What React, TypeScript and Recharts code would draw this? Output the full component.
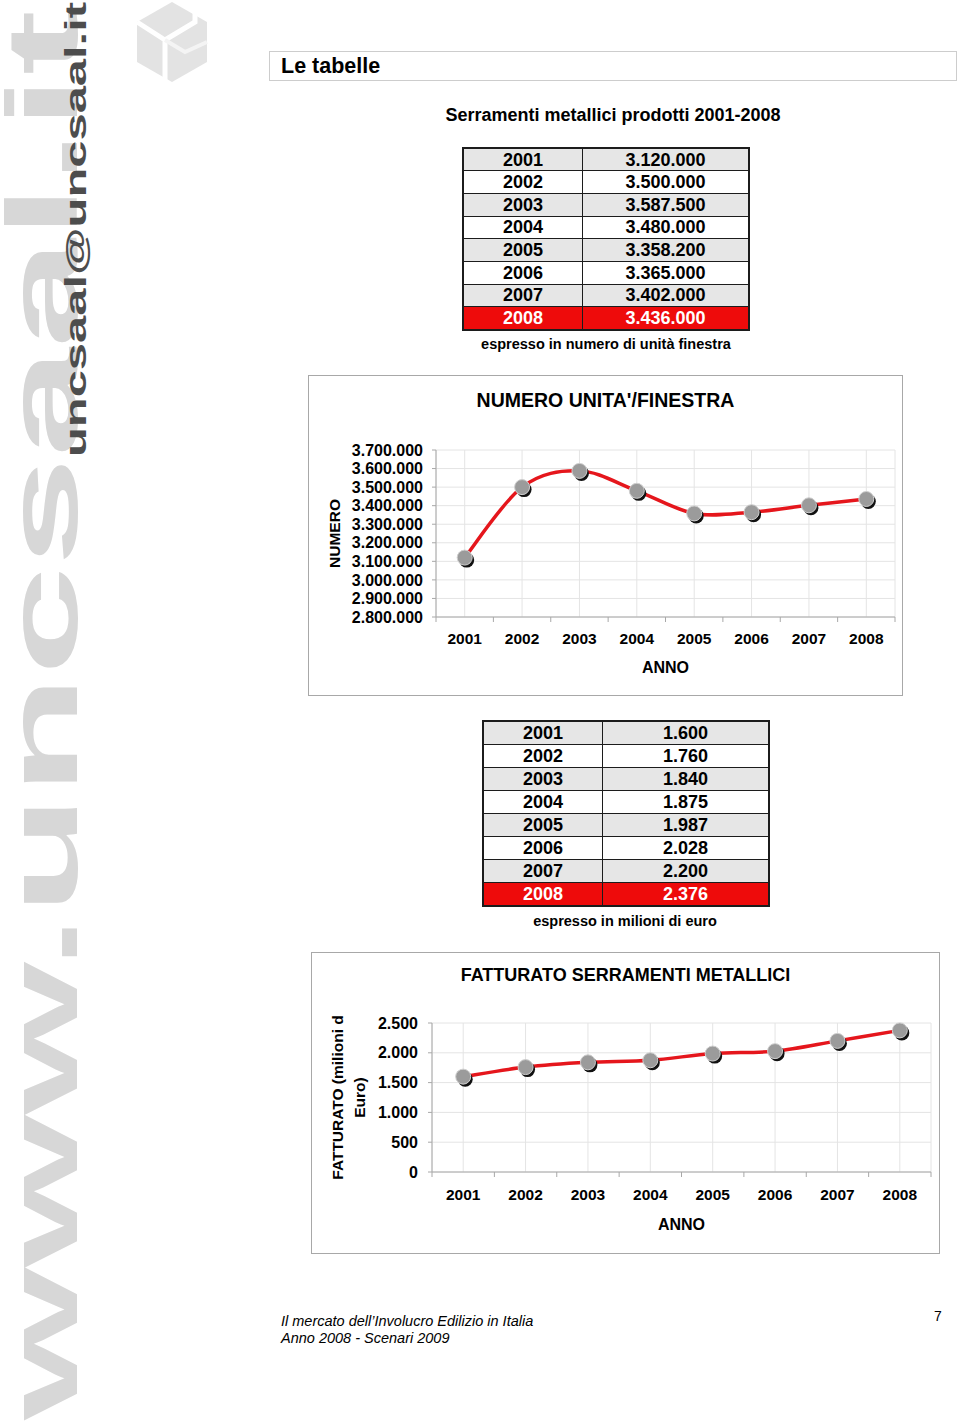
import React from 'react'
import { LineChart, Line, XAxis, YAxis, CartesianGrid } from 'recharts'

const FONT = "'Liberation Sans', Arial, Helvetica, sans-serif"

// data
const years = ['2001', '2002', '2003', '2004', '2005', '2006', '2007', '2008']
const unitValues = [3120000, 3500000, 3587500, 3480000, 3358200, 3365000, 3402000, 3436000]
const revenueValues = [1600, 1760, 1840, 1875, 1987, 2028, 2200, 2376]
const unitTicks = [2800000, 2900000, 3000000, 3100000, 3200000, 3300000, 3400000, 3500000, 3600000, 3700000]
const revenueTicks = [0, 500, 1000, 1500, 2000, 2500]

const unitData = years.map((y, i) => ({ year: y, value: unitValues[i] }))
const revenueData = years.map((y, i) => ({ year: y, value: revenueValues[i] }))

const fmtIt = (v: number) => String(v).replace(/\B(?=(\d{3})+(?!\d))/g, '.')

// Excel-like smoothed line (catmull-rom style bezier)
function excelCurve(context: any) {
  let pts: number[][] = []
  return {
    areaStart() {},
    areaEnd() {},
    lineStart() { pts = [] },
    point(x: number, y: number) { pts.push([+x, +y]) },
    lineEnd() {
      const n = pts.length
      if (!n) return
      context.moveTo(pts[0][0], pts[0][1])
      for (let i = 0; i < n - 1; i++) {
        const p0 = pts[Math.max(i - 1, 0)], p1 = pts[i], p2 = pts[i + 1], p3 = pts[Math.min(i + 2, n - 1)]
        context.bezierCurveTo(
          p1[0] + (p2[0] - p0[0]) / 6, p1[1] + (p2[1] - p0[1]) / 6,
          p2[0] - (p3[0] - p1[0]) / 6, p2[1] - (p3[1] - p1[1]) / 6,
          p2[0], p2[1])
      }
    },
  }
}

const Marker = (props: any) => {
  const { cx, cy, index } = props
  if (cx == null || cy == null) return null
  return (
    <g key={index}>
      <circle cx={cx + 2} cy={cy + 2.5} r={7.5} fill="#111" />
      <circle cx={cx} cy={cy} r={7.5} fill="#9b9b9b" stroke="#cfcfcf" strokeWidth={1} />
    </g>
  )
}

// category label + excel style tick marks between categories
const makeYearTick = (plotW: number, labelDy: number) => (props: any) => {
  const { x, y, payload, index, visibleTicksCount } = props
  const count = visibleTicksCount || years.length
  const half = plotW / count / 2
  return (
    <g>
      <line x1={x - half} x2={x - half} y1={y} y2={y + 5} stroke="#a8a8a8" />
      {index === count - 1 && <line x1={x + half} x2={x + half} y1={y} y2={y + 5} stroke="#a8a8a8" />}
      <text x={x} y={y + labelDy} dy="0.35em" textAnchor="middle" fontSize={15.5} fontWeight="bold" fill="#000" fontFamily={FONT}>
        {payload.value}
      </text>
    </g>
  )
}

const AnnoLabel = (dy: number) => (props: any) => {
  const vb = props.viewBox
  return (
    <text x={vb.x + vb.width / 2} y={vb.y + dy} dy="0.35em" textAnchor="middle" fontSize={16} fontWeight="bold" fill="#000" fontFamily={FONT}>
      ANNO
    </text>
  )
}

const YTitle = (lines: string[], xs: number[]) => (props: any) => {
  const vb = props.viewBox
  const cy = vb.y + vb.height / 2
  return (
    <g>
      {lines.map((l, i) => (
        <text key={i} x={xs[i]} y={cy} dy="0.35em" textAnchor="middle" transform={`rotate(-90 ${xs[i]} ${cy})`}
          fontSize={15.5} fontWeight="bold" fill="#000" fontFamily={FONT}>{l}</text>
      ))}
    </g>
  )
}

function TrendChart({ data, ticks, width, height, margin, yWidth, plotW, labelDy, annoDy, titleLines, titleXs, tickMargin }: any) {
  return (
    <LineChart width={width} height={height} data={data} margin={margin}>
      <CartesianGrid stroke="#e4e4e4" />
      <XAxis dataKey="year" height={height - margin.top - (ticks.plotH)} padding={{ left: plotW / 16, right: plotW / 16 }}
        axisLine={{ stroke: '#a8a8a8' }} tickLine={false} tickSize={0} tickMargin={0} interval={0}
        tick={makeYearTick(plotW, labelDy)} label={{ content: AnnoLabel(annoDy) }} />
      <YAxis domain={[ticks.values[0], ticks.values[ticks.values.length - 1]]} ticks={ticks.values} interval={0}
        width={yWidth} tickFormatter={fmtIt} tickSize={4} tickMargin={tickMargin}
        axisLine={{ stroke: '#a8a8a8' }} tickLine={{ stroke: '#a8a8a8' }}
        tick={{ fontSize: 16, fontWeight: 'bold', fill: '#000', fontFamily: FONT }}
        label={{ content: YTitle(titleLines, titleXs) }} />
      <Line type={excelCurve as any} dataKey="value" stroke="#e5161c" strokeWidth={3.5}
        dot={Marker} activeDot={false} isAnimationActive={false} />
    </LineChart>
  )
}

const cellBase: React.CSSProperties = {
  border: '1.5px solid #1c1c1c', padding: 0, textAlign: 'center', fontWeight: 'bold', fontSize: 18, lineHeight: 1,
}

function DataTable({ values, left, top, rowH, format }: any) {
  return (
    <table style={{ position: 'absolute', left, top, width: 288, borderCollapse: 'collapse', fontFamily: FONT, border: '2px solid #1c1c1c' }}>
      <tbody>
        {years.map((y, i) => {
          const last = i === years.length - 1
          const bg = last ? '#ee0b0b' : i % 2 === 0 ? '#e6e6e6' : '#ffffff'
          const color = last ? '#fff' : '#000'
          return (
            <tr key={y} style={{ height: rowH }}>
              <td style={{ ...cellBase, width: 118, background: bg, color }}>{y}</td>
              <td style={{ ...cellBase, background: bg, color }}>{format(values[i])}</td>
            </tr>
          )
        })}
      </tbody>
    </table>
  )
}

function Watermark() {
  return (
    <svg width={260} height={1424} style={{ position: 'absolute', left: 0, top: 0 }}>
      <text transform="translate(77,1420) rotate(-90)" fontSize={100} fontWeight="bold" fill="#d7d7d7" fontFamily={FONT}
        textLength={1410} lengthAdjust="spacingAndGlyphs">www.uncsaal.it</text>
      <text transform="translate(86,457) rotate(-90)" fontSize={29} fontWeight="bold" fill="#4d4d4d" fontFamily={FONT}
        textLength={455} lengthAdjust="spacingAndGlyphs">uncsaal@uncsaal.it</text>
      <polygon points="172,2 207,22 207,62 172,82 137,62 137,22" fill="#e3e3e3" />
      <polyline points="137,22 165,40 165,82" fill="none" stroke="#fff" strokeWidth={5} />
      <polyline points="165,40 195,22 195,10" fill="none" stroke="#fff" strokeWidth={5} />
      <polyline points="165,40 185,52 207,42" fill="none" stroke="#f4f4f4" strokeWidth={4} />
    </svg>
  )
}

const text = (style: React.CSSProperties): React.CSSProperties => ({
  position: 'absolute', fontFamily: FONT, color: '#000', whiteSpace: 'nowrap', ...style,
})

export default function App() {
  return (
    <div style={{ position: 'absolute', left: 0, top: 0, width: 960, height: 1424, background: '#fff', overflow: 'hidden' }}>
      <Watermark />

      <div style={{ position: 'absolute', left: 269, top: 51, width: 688, height: 30, border: '1.5px solid #cdcdcd', boxSizing: 'border-box' }} />
      <div style={text({ left: 281, top: 54, fontSize: 21.5, fontWeight: 'bold', lineHeight: '24px' })}>Le tabelle</div>

      <div style={text({ left: 413, width: 400, top: 104, textAlign: 'center', fontSize: 18, fontWeight: 'bold', lineHeight: '22px' })}>
        Serramenti metallici prodotti 2001-2008
      </div>

      <DataTable values={unitValues} left={462} top={147} rowH={22.7} format={fmtIt} />
      <div style={text({ left: 406, width: 400, top: 335, textAlign: 'center', fontSize: 14.5, fontWeight: 'bold', lineHeight: '18px' })}>
        espresso in numero di unità finestra
      </div>

      <div style={{ position: 'absolute', left: 308, top: 375, width: 595, height: 321, border: '1px solid #a8a8a8', boxSizing: 'border-box' }} />
      <div style={text({ left: 308, width: 595, top: 388, textAlign: 'center', fontSize: 19.5, fontWeight: 'bold', lineHeight: '24px' })}>
        NUMERO UNITA'/FINESTRA
      </div>
      <div style={{ position: 'absolute', left: 308, top: 375 }}>
        <TrendChart data={unitData} ticks={{ values: unitTicks, plotH: 167 }} width={595} height={321}
          margin={{ top: 75, right: 8, bottom: 0, left: 0 }} yWidth={128} plotW={459} labelDy={22} annoDy={50}
          titleLines={['NUMERO']} titleXs={[27]} tickMargin={9} />
      </div>

      <DataTable values={revenueValues} left={482} top={720} rowH={23.1} format={fmtIt} />
      <div style={text({ left: 425, width: 400, top: 912, textAlign: 'center', fontSize: 14.5, fontWeight: 'bold', lineHeight: '18px' })}>
        espresso in milioni di euro
      </div>

      <div style={{ position: 'absolute', left: 311, top: 952, width: 629, height: 302, border: '1px solid #a8a8a8', boxSizing: 'border-box' }} />
      <div style={text({ left: 311, width: 629, top: 964, textAlign: 'center', fontSize: 18, fontWeight: 'bold', lineHeight: '22px' })}>
        FATTURATO SERRAMENTI METALLICI
      </div>
      <div style={{ position: 'absolute', left: 311, top: 952 }}>
        <TrendChart data={revenueData} ticks={{ values: revenueTicks, plotH: 149 }} width={629} height={302}
          margin={{ top: 71, right: 9, bottom: 0, left: 0 }} yWidth={121} plotW={499} labelDy={23} annoDy={52}
          titleLines={['FATTURATO (milioni d', 'Euro)']} titleXs={[27, 49]} tickMargin={10} />
      </div>

      <div style={text({ left: 281, top: 1313, fontSize: 14.5, fontStyle: 'italic', lineHeight: '17px' })}>
        Il mercato dell’Involucro Edilizio in Italia<br />Anno 2008 - Scenari 2009
      </div>
      <div style={text({ left: 934, top: 1308, fontSize: 14, lineHeight: '17px' })}>7</div>
    </div>
  )
}
